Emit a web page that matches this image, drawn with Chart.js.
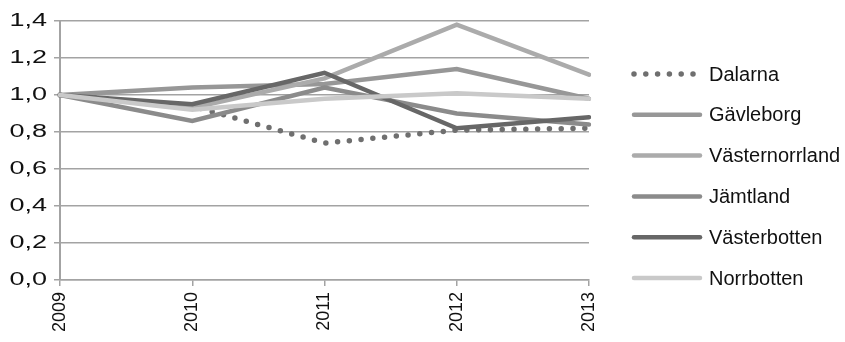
<!DOCTYPE html>
<html>
<head>
<meta charset="utf-8">
<script src="https://cdn.jsdelivr.net/npm/chart.js@4.4.1/dist/chart.umd.min.js"></script>
<style>
html,body{margin:0;padding:0;background:#fff;}
#wrap{width:845px;height:342px;position:relative;}
</style>
</head>
<body>
<div id="wrap"><canvas id="c" width="845" height="342"></canvas></div>
<script>
const years = ["2009", "2010", "2011", "2012", "2013"];
const seriesNames = ["Dalarna", "Gävleborg", "Västernorrland", "Jämtland", "Västerbotten", "Norrbotten"];
const dalarna        = [1.00, 0.94, 0.74, 0.81, 0.82];
const gavleborg      = [1.00, 1.04, 1.06, 1.14, 0.98];
const vasternorrland = [1.00, 0.93, 1.09, 1.38, 1.11];
const jamtland       = [1.00, 0.86, 1.04, 0.90, 0.84];
const vasterbotten   = [1.00, 0.95, 1.12, 0.82, 0.88];
const norrbotten     = [1.00, 0.92, 0.98, 1.01, 0.98];
const yTickLabels = ["0,0", "0,2", "0,4", "0,6", "0,8", "1,0", "1,2", "1,4"];

const seriesValues = [dalarna, gavleborg, vasternorrland, jamtland, vasterbotten, norrbotten];
const colors = ["#6f6f6f", "#979797", "#ababab", "#8b8b8b", "#676767", "#c9c9c9"];

const datasets = seriesNames.map((name, i) => ({
  label: name,
  data: seriesValues[i],
  borderColor: colors[i],
  backgroundColor: colors[i],
  borderWidth: i === 0 ? 5.5 : 4.5,
  borderDash: i === 0 ? [0, 11.8] : [],
  borderCapStyle: 'round',
  borderJoinStyle: 'miter',
  pointRadius: 0,
  pointHoverRadius: 0,
  tension: 0,
  fill: false,
  order: seriesNames.length - i
}));

const FONT = "'Liberation Sans', Arial, Helvetica, sans-serif";

const legendPlugin = {
  id: 'sideLegend',
  afterDraw(chart) {
    const ctx = chart.ctx;
    const x0 = 632, x1 = 702, tx = 709, yStart = 74, step = 40.8;
    ctx.save();
    chart.data.datasets.forEach((ds, i) => {
      const y = yStart + i * step;
      ctx.beginPath();
      ctx.strokeStyle = ds.borderColor;
      ctx.lineWidth = ds.borderWidth;
      ctx.lineCap = 'round';
      ctx.setLineDash(ds.borderDash || []);
      ctx.moveTo(x0 + 2, y);
      ctx.lineTo(x1 - 2, y);
      ctx.stroke();
      ctx.setLineDash([]);
      ctx.fillStyle = '#111';
      ctx.font = "20px " + FONT;
      ctx.textBaseline = 'middle';
      ctx.textAlign = 'left';
      ctx.fillText(ds.label, tx, y + 1);
    });
    ctx.restore();
  }
};

const chart = new Chart(document.getElementById('c'), {
  type: 'line',
  data: { labels: years, datasets: datasets },
  options: {
    responsive: false,
    animation: false,
    devicePixelRatio: 1,
    layout: { padding: { left: 0, right: 256, top: 21, bottom: 0 } },
    plugins: { legend: { display: false }, tooltip: { enabled: false } },
    scales: {
      x: {
        offset: false,
        grid: { display: true, drawOnChartArea: false, drawTicks: true, tickLength: 6, color: '#a3a3a3', lineWidth: 1.5 },
        border: { display: true, color: '#a3a3a3', width: 1.5 },
        ticks: {
          color: '#111',
          font: { family: FONT, size: 18 },
          minRotation: 90, maxRotation: 90,
          padding: 6,
          autoSkip: false
        },
        afterFit(scale) { scale.height = 62; }
      },
      y: {
        min: 0, max: 1.4,
        grid: { color: '#a3a3a3', lineWidth: 1.5, drawTicks: true, tickLength: 6 },
        border: { display: true, color: '#a3a3a3', width: 2 },
        ticks: {
          stepSize: 0.2,
          color: '#111',
          font: { family: FONT, size: 18 },
          padding: 7,
          callback: (v, idx) => yTickLabels[idx]
        },
        afterFit(scale) { scale.width = 60; }
      }
    }
  },
  plugins: [legendPlugin]
});

// The reference's y tick labels are horizontally widened; stretch them about their right edge.
const yScale = chart.scales.y;
const origDrawLabels = yScale.drawLabels;
yScale.drawLabels = function (area) {
  const ctx = this.ctx;
  const anchor = this.right - 13;
  ctx.save();
  ctx.translate(anchor, 0);
  ctx.scale(1.5, 1);
  ctx.translate(-anchor, 0);
  origDrawLabels.call(this, area);
  ctx.restore();
};
chart.draw();
</script>
</body>
</html>
